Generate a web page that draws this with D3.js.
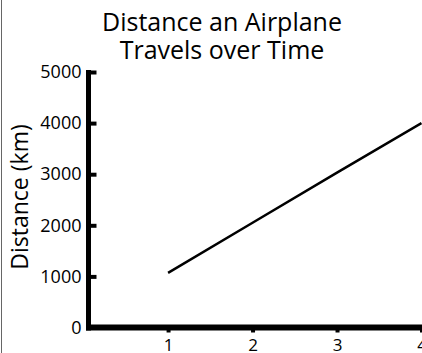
<!DOCTYPE html>
<html>
<head>
<meta charset="utf-8">
<script src="https://cdn.jsdelivr.net/npm/d3@7"></script>
<style>
  body { margin: 0; background: #fff; }
  svg { display: block; font-family: "Open Sans", sans-serif; }
</style>
</head>
<body>
<svg width="422" height="353"></svg>
<script>
const width = 422
const height = 353

// data
const hours = [1, 2, 3, 4]
const distance = [1070, 2050, 3030, 4000]
const yTicks = [0, 1000, 2000, 3000, 4000, 5000]
const xTicks = [1, 2, 3, 4]
const titleLines = ["Distance an Airplane", "Travels over Time"]
const yLabel = "Distance (km)"

let svg = d3.select("svg")

let x = d3.scaleLinear().domain([0, 4]).range([83.6, 421.5])
let y = d3.scaleLinear().domain([0, 5000]).range([327.5, 72])
let axisX = 88.5

// thin frame line on the left
svg.append("line")
  .attr("x1", 1.5).attr("x2", 1.5)
  .attr("y1", 0).attr("y2", height)
  .attr("stroke", "#666")
  .attr("stroke-width", 1)

// title, two lines
titleLines.forEach((t, i) => {
  svg.append("text")
    .attr("x", 222)
    .attr("y", 31 + i * 28)
    .attr("text-anchor", "middle")
    .attr("font-size", "25px")
    .text(t)
})

// y axis
let yAxis = svg.append("g")
  .attr("transform", `translate(${axisX},0)`)
  .call(d3.axisLeft(y).tickValues(yTicks).tickSize(-8).tickPadding(7).tickFormat(d3.format("d")))
yAxis.select(".domain").remove()
yAxis.selectAll(".tick line").attr("stroke", "#000").attr("stroke-width", 4)
yAxis.selectAll(".tick text").attr("font-size", "18px").attr("fill", "#000")
  .attr("font-family", "Open Sans, sans-serif")

// x axis
let xAxis = svg.append("g")
  .attr("transform", `translate(0,${y(0)})`)
  .call(d3.axisBottom(x).tickValues(xTicks).tickSize(5).tickPadding(6).tickFormat(d3.format("d")))
xAxis.select(".domain").remove()
xAxis.selectAll(".tick line").attr("stroke", "#000").attr("stroke-width", 4)
xAxis.selectAll(".tick text").attr("font-size", "17px").attr("fill", "#000")
  .attr("font-family", "Open Sans, sans-serif")

// heavy axis lines
svg.append("line")
  .attr("x1", axisX).attr("x2", axisX)
  .attr("y1", y(5000) - 2).attr("y2", y(0) + 3)
  .attr("stroke", "#000").attr("stroke-width", 5)
svg.append("line")
  .attr("x1", axisX - 2.5).attr("x2", width)
  .attr("y1", y(0)).attr("y2", y(0))
  .attr("stroke", "#000").attr("stroke-width", 6)

// y label
svg.append("text")
  .attr("transform", `translate(28,197) rotate(-90)`)
  .attr("text-anchor", "middle")
  .attr("font-size", "23px")
  .text(yLabel)

// the data line
let line = d3.line()
  .x((d, i) => x(hours[i]))
  .y(d => y(d))

svg.append("path")
  .datum(distance)
  .attr("d", line)
  .attr("fill", "none")
  .attr("stroke", "#000")
  .attr("stroke-width", 2.5)
</script>
</body>
</html>
